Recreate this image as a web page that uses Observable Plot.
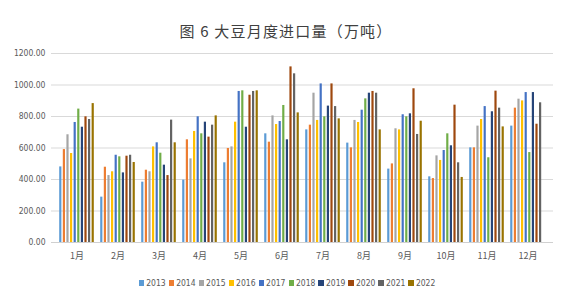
<!DOCTYPE html>
<html>
<head>
<meta charset="utf-8">
<script src="https://cdn.jsdelivr.net/npm/d3@7"></script>
<script src="https://cdn.jsdelivr.net/npm/@observablehq/plot@0.6"></script>
<style>
  html, body { margin: 0; padding: 0; background: #fff; }
  #wrap { width: 567px; height: 305px; position: relative; overflow: hidden; }
  #title { height: 44px; box-sizing: border-box; padding-top: 22px; text-align: center; padding-left: 5px;
    font-family: "Noto Sans CJK SC", sans-serif; font-size: 15px; line-height: 18px; color: #404040; letter-spacing: 1.2px; white-space: pre; }
  #legend { display: flex; justify-content: center; align-items: center; margin-top: 9px; margin-left: 7px;
    font-family: "Liberation Sans Narrow", "DejaVu Sans Condensed", sans-serif; font-size: 8.5px; color: #595959; line-height: 10px; }
  #legend .item { display: flex; align-items: center; margin: 0 1.5px; }
  #legend .sw { width: 5.5px; height: 5.5px; margin-right: 2px; }
  svg { display: block; }
</style>
</head>
<body>
<div id="wrap">
  <div id="title">图 6 大豆月度进口量（万吨）</div>
  <div id="chart"></div>
  <div id="legend"></div>
</div>
<script>
const months = ["1月","2月","3月","4月","5月","6月","7月","8月","9月","10月","11月","12月"];
const years = [2013, 2014, 2015, 2016, 2017, 2018, 2019, 2020, 2021, 2022];
const yTicks = [0, 200, 400, 600, 800, 1000, 1200];

const v2013 = [480, 288, 383, 396, 506, 690, 715, 631, 466, 417, 601, 739];
const v2014 = [590, 478, 459, 652, 597, 637, 745, 601, 499, 406, 601, 853];
const v2015 = [684, 425, 449, 531, 607, 804, 948, 775, 722, 550, 739, 910];
const v2016 = [565, 449, 607, 705, 764, 749, 775, 762, 715, 521, 781, 899];
const v2017 = [762, 554, 633, 798, 959, 768, 1007, 840, 811, 584, 863, 952];
const v2018 = [847, 544, 567, 690, 963, 870, 798, 912, 798, 690, 538, 571];
const v2019 = [732, 442, 491, 764, 732, 652, 866, 948, 817, 614, 830, 952];
const v2020 = [798, 548, 425, 669, 935, 1115, 1007, 959, 976, 872, 961, 751];
const v2021 = [781, 554, 777, 745, 959, 1071, 863, 948, 686, 506, 853, 887];
const v2022 = [882, 508, 633, 804, 963, 823, 785, 715, 770, 413, 734, null];

const series = [v2013, v2014, v2015, v2016, v2017, v2018, v2019, v2020, v2021, v2022];
const colors = ["#5B9BD5", "#ED7D31", "#A5A5A5", "#FFC000", "#4472C4", "#70AD47", "#264478", "#9E480E", "#636363", "#997300"];

const W = 567, H = 225, mL = 51, mR = 14, mT = 9, mB = 27;
const pInner = 0.135, pOuter = 0.095;
const step = (W - mL - mR) / (months.length - pInner + 2 * pOuter);
const bw = step * (1 - pInner);
const slot = bw / years.length;
const gap = 0.2;

const barMarks = years.map((yr, i) => {
  const data = months.map((m, j) => ({month: m, year: yr, value: series[i][j]})).filter(d => d.value != null);
  return Plot.barY(data, {
    x: "month", y: "value", fill: colors[i],
    insetLeft: i * slot + gap, insetRight: (years.length - 1 - i) * slot + gap
  });
});

const chart = Plot.plot({
  width: W, height: H,
  marginLeft: mL, marginRight: mR, marginTop: mT, marginBottom: mB,
  style: {fontFamily: "'Liberation Sans Narrow', 'DejaVu Sans Condensed', sans-serif", fontSize: "8.5px", color: "#595959", background: "#fff"},
  x: {domain: months, paddingInner: pInner, paddingOuter: pOuter, label: null, tickSize: 0, tickPadding: 10},
  y: {domain: [0, 1200], ticks: yTicks, tickFormat: d => d.toFixed(2), label: null, tickSize: 0, tickPadding: 6},
  marks: [
    Plot.ruleY(yTicks, {stroke: "#d9d9d9", strokeWidth: 1}),
    ...barMarks,
    Plot.ruleY([0], {stroke: "#d0d0d0", strokeWidth: 1})
  ]
});
chart.querySelectorAll('g[aria-label="x-axis tick label"] text').forEach(t => { t.style.fontSize = "9px"; t.style.fontFamily = "'Noto Sans CJK SC', sans-serif"; });
document.getElementById("chart").appendChild(chart);

const legend = document.getElementById("legend");
years.forEach((yr, i) => {
  const item = document.createElement("div");
  item.className = "item";
  const sw = document.createElement("span");
  sw.className = "sw";
  sw.style.background = colors[i];
  const lab = document.createElement("span");
  lab.textContent = String(yr);
  item.appendChild(sw);
  item.appendChild(lab);
  legend.appendChild(item);
});
</script>
</body>
</html>
